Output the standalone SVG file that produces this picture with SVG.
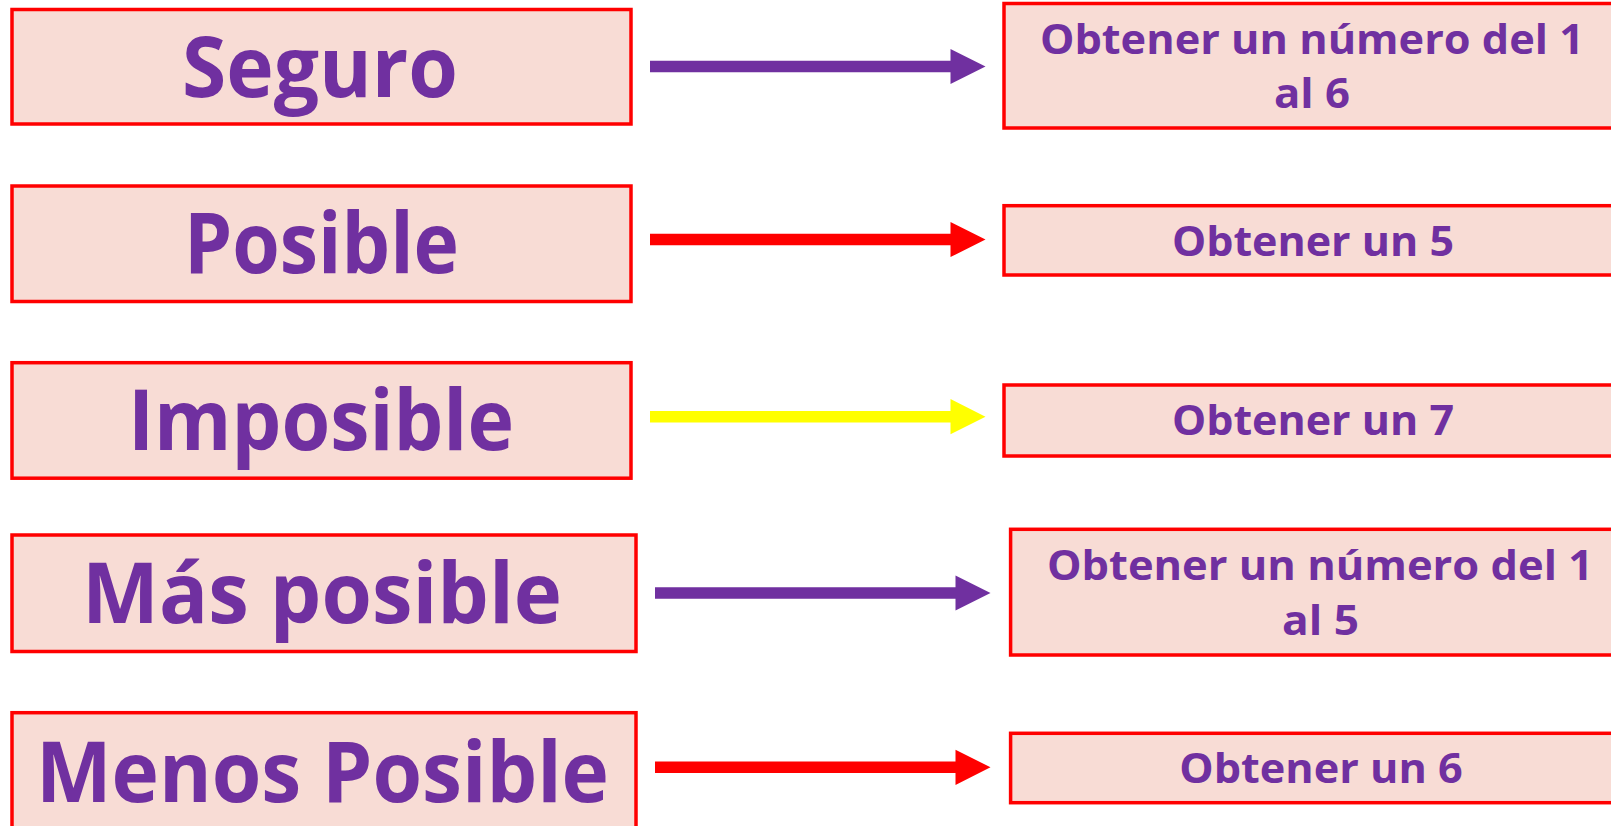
<svg xmlns="http://www.w3.org/2000/svg" xmlns:xlink="http://www.w3.org/1999/xlink" width="1611" height="826" viewBox="0 0 1611 826">
<style>
.box{fill:#F8DCD5;stroke:#FF0000;stroke-width:3.5}
.big{font-family:"Open Sans","Liberation Sans",sans-serif;font-weight:bold;font-size:84px;fill:#7030A0;text-anchor:middle}
.small{font-family:"Open Sans","Liberation Sans",sans-serif;font-weight:bold;font-size:42px;fill:#7030A0;text-anchor:middle}
.purple{fill:#7030A0}
.red{fill:#FF0000}
.yellow{fill:#FFFF00}
</style>
<defs>
<path id="arrow" d="M0,-5.8 H300.5 V-17.6 L335.5,0 L300.5,17.6 V5.8 H0 Z"/>
</defs>
<rect width="1611" height="826" fill="#FFFFFF"/>
<g id="connectors">
<use xlink:href="#arrow" x="650" y="66.5" class="purple"/>
<use xlink:href="#arrow" x="650" y="239.5" class="red"/>
<use xlink:href="#arrow" x="650" y="416.7" class="yellow"/>
<use xlink:href="#arrow" x="655" y="593" class="purple"/>
<use xlink:href="#arrow" x="655" y="767.3" class="red"/>
</g>
<g id="seguro">
<rect class="box" x="12" y="9.5" width="619" height="114.5"/>
<text class="big" x="320" y="96.7" textLength="276" lengthAdjust="spacingAndGlyphs">Seguro</text>
</g>
<g id="posible">
<rect class="box" x="12" y="186" width="619" height="115.5"/>
<text class="big" x="321.5" y="273" textLength="275" lengthAdjust="spacingAndGlyphs">Posible</text>
</g>
<g id="imposible">
<rect class="box" x="12" y="362.7" width="619" height="115.5"/>
<text class="big" x="321" y="450" textLength="386" lengthAdjust="spacingAndGlyphs">Imposible</text>
</g>
<g id="mas-posible">
<rect class="box" x="12" y="535" width="624" height="116.5"/>
<text class="big" x="322" y="623.3" textLength="480" lengthAdjust="spacingAndGlyphs">Más posible</text>
</g>
<g id="menos-posible">
<rect class="box" x="12" y="712.7" width="624" height="120"/>
<text class="big" x="322.5" y="801.7" textLength="573" lengthAdjust="spacingAndGlyphs">Menos Posible</text>
</g>
<g id="r-numero-1-6">
<rect class="box" x="1004" y="3.5" width="620" height="124.5"/>
<text class="small" x="1312" y="54.3" textLength="544" lengthAdjust="spacingAndGlyphs">Obtener un número del 1</text>
<text class="small" x="1312" y="108" textLength="76" lengthAdjust="spacingAndGlyphs">al 6</text>
</g>
<g id="r-un-5">
<rect class="box" x="1004" y="205.7" width="620" height="69.3"/>
<text class="small" x="1313" y="256" textLength="282" lengthAdjust="spacingAndGlyphs">Obtener un 5</text>
</g>
<g id="r-un-7">
<rect class="box" x="1004" y="385" width="620" height="71"/>
<text class="small" x="1313" y="435" textLength="282" lengthAdjust="spacingAndGlyphs">Obtener un 7</text>
</g>
<g id="r-numero-1-5">
<rect class="box" x="1010.6" y="529.3" width="620" height="125.7"/>
<text class="small" x="1320" y="580" textLength="546" lengthAdjust="spacingAndGlyphs">Obtener un número del 1</text>
<text class="small" x="1320.5" y="635" textLength="77" lengthAdjust="spacingAndGlyphs">al 5</text>
</g>
<g id="r-un-6">
<rect class="box" x="1010.6" y="733.3" width="620" height="69.4"/>
<text class="small" x="1321" y="783.3" textLength="283.5" lengthAdjust="spacingAndGlyphs">Obtener un 6</text>
</g>
</svg>
